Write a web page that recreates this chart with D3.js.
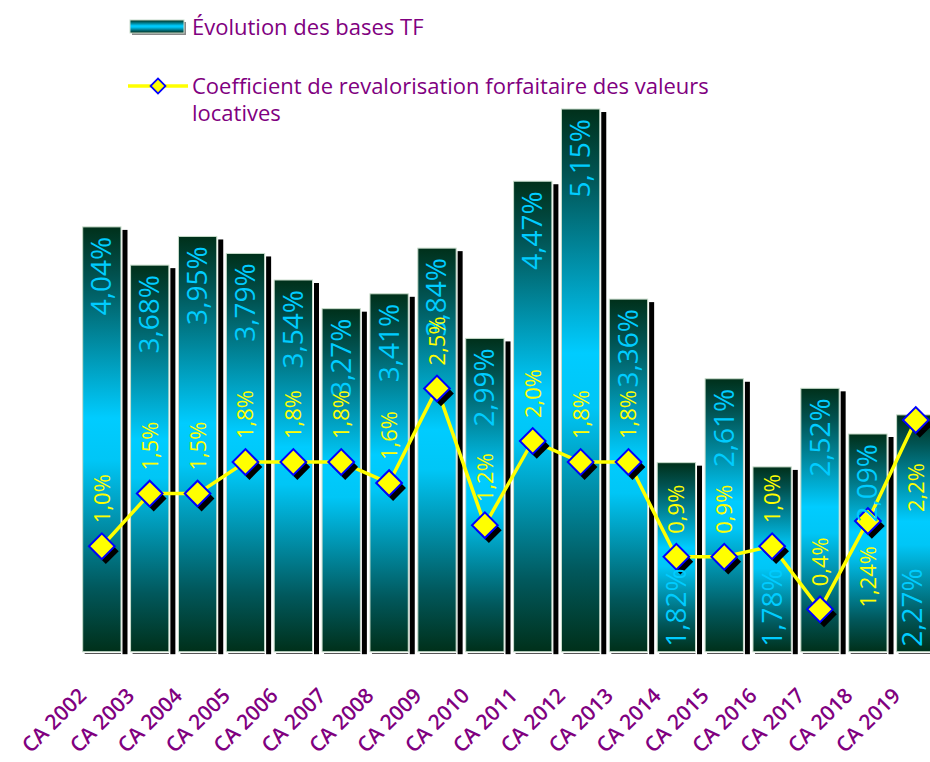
<!DOCTYPE html>
<html>
<head>
<meta charset="utf-8">
<script src="https://cdn.jsdelivr.net/npm/d3@7"></script>
<style>
  html, body { margin: 0; padding: 0; background: #fff; }
  svg { display: block; }
</style>
</head>
<body>
<script>
// ---------- DATA ----------
const categories = ["CA 2002","CA 2003","CA 2004","CA 2005","CA 2006","CA 2007","CA 2008","CA 2009","CA 2010",
  "CA 2011","CA 2012","CA 2013","CA 2014","CA 2015","CA 2016","CA 2017","CA 2018","CA 2019"];
const basesTF = [4.04,3.68,3.95,3.79,3.54,3.27,3.41,3.84,2.99,4.47,5.15,3.36,1.82,2.61,1.78,2.52,2.09,2.27];
const coefRevalo = [1.0,1.5,1.5,1.8,1.8,1.8,1.6,2.5,1.2,2.0,1.8,1.8,0.9,0.9,1.0,0.4,1.24,2.2];
const barLabelAtBase = ["CA 2014","CA 2016","CA 2019"];
const lineLabelBelow = ["CA 2018","CA 2019"];
const seriesNames = ["Évolution des bases TF", "Coefficient de revalorisation forfaitaire des valeurs", "locatives"];

// ---------- SETUP ----------
const W = 930, H = 762;
const FONT = "'Open Sans', 'DejaVu Sans', sans-serif";
const PURPLE = "#800080", CYAN = "#00ccff", YELLOW = "#ffff00";
const BAR_FS = 28;

const svg = d3.select("body").append("svg").attr("width", W).attr("height", H)
  .style("background", "#fff");

const defs = svg.append("defs");
const grad = defs.append("linearGradient").attr("id", "barGrad")
  .attr("x1", 0).attr("y1", 0).attr("x2", 0).attr("y2", 1);
[[0, "#00301a"], [0.12, "#015352"], [0.45, "#00ccff"], [0.55, "#00c6f6"], [0.85, "#01585c"], [1, "#00301a"]]
  .forEach(([o, c]) => grad.append("stop").attr("offset", o).attr("stop-color", c));

const x = d3.scaleBand().domain(categories).range([77.9, 939.7]).paddingInner(0.2).paddingOuter(0.1);
const yMin = 0.04;
const yBar = d3.scaleLinear().domain([yMin, 6]).range([651.7, 651.7 - (6 - yMin) * 106.2]);
const yLine = d3.scaleLinear().domain([0, 6]).range([651.4, 651.4 - 6 * 105.2]);
const base = yBar(yMin);
const bw = x.bandwidth();
const cx = c => x(c) + bw / 2;

const fmtBar = v => d3.format(".2f")(v).replace(".", ",") + "%";
const fmtLine = v => (Math.abs(v * 10 - Math.round(v * 10)) < 1e-9 ? d3.format(".1f")(v) : d3.format(".2f")(v)).replace(".", ",") + "%";

const data = categories.map((c, i) => ({ c, b: basesTF[i], l: coefRevalo[i] }));

// ---------- BARS ----------
const gBars = svg.append("g");
gBars.selectAll("rect.shadow").data(data).enter().append("rect")
  .attr("x", d => x(d.c) + bw + 1.5)
  .attr("y", d => yBar(d.b) + 3)
  .attr("width", 5)
  .attr("height", d => base - yBar(d.b) - 0.5)
  .attr("fill", "#000");
gBars.selectAll("line.edge").data(data).enter().append("line")
  .attr("x1", d => x(d.c) + 2).attr("x2", d => x(d.c) + bw)
  .attr("y1", base + 1.8).attr("y2", base + 1.8)
  .attr("stroke", "#555").attr("stroke-width", 1);
gBars.selectAll("rect.bar").data(data).enter().append("rect")
  .attr("x", d => x(d.c))
  .attr("y", d => yBar(d.b))
  .attr("width", bw)
  .attr("height", d => base - yBar(d.b))
  .attr("fill", "url(#barGrad)")
  .attr("stroke", "#c8dccb").attr("stroke-width", 1);

// ---------- LINE ----------
const lineGen = d3.line().x(d => cx(d.c)).y(d => yLine(d.l));
svg.append("path").datum(data).attr("d", lineGen)
  .attr("fill", "none").attr("stroke", YELLOW).attr("stroke-width", 3.5).attr("stroke-linejoin", "round");

const diamond = d3.symbol(d3.symbolSquare, 330)();
svg.selectAll("path.mshadow").data(data).enter().append("path")
  .attr("d", diamond)
  .attr("transform", d => `translate(${cx(d.c) + 4},${yLine(d.l) + 5}) rotate(45)`)
  .attr("fill", "#000");
svg.selectAll("path.marker").data(data).enter().append("path")
  .attr("d", diamond)
  .attr("transform", d => `translate(${cx(d.c)},${yLine(d.l)}) rotate(45)`)
  .attr("fill", YELLOW).attr("stroke", "#0000ff").attr("stroke-width", 2);

// ---------- BAR LABELS ----------
svg.selectAll("text.blab").data(data).enter().append("text")
  .attr("transform", d => {
    const atBase = barLabelAtBase.includes(d.c);
    const yy = atBase ? base - 5 : yBar(d.b) + 10;
    const xx = Math.min(cx(d.c) + 9.5, W - BAR_FS * 0.28);
    return `translate(${xx},${yy}) rotate(-90)`;
  })
  .attr("text-anchor", d => barLabelAtBase.includes(d.c) ? "start" : "end")
  .attr("font-family", FONT).attr("font-size", BAR_FS).attr("fill", CYAN)
  .text(d => fmtBar(d.b));

// ---------- LINE LABELS ----------
svg.selectAll("text.llab").data(data).enter().append("text")
  .attr("transform", d => {
    const below = lineLabelBelow.includes(d.c);
    const yy = below ? yLine(d.l) + (d.c === "CA 2019" ? 43 : 25) : yLine(d.l) - 23;
    return `translate(${cx(d.c) + 8},${yy}) rotate(-90)`;
  })
  .attr("text-anchor", d => lineLabelBelow.includes(d.c) ? "end" : "start")
  .attr("font-family", FONT).attr("font-size", 22).attr("fill", YELLOW)
  .text(d => fmtLine(d.l));

// ---------- X AXIS LABELS ----------
svg.selectAll("text.xlab").data(categories).enter().append("text")
  .attr("transform", c => `translate(${cx(c) - 14},${697}) rotate(-45)`)
  .attr("text-anchor", "end")
  .attr("font-family", FONT).attr("font-weight", 600).attr("font-size", 21).attr("fill", PURPLE)
  .text(c => c);

// ---------- LEGEND ----------
const lg = svg.append("g");
lg.append("rect").attr("x", 132).attr("y", 22).attr("width", 54).attr("height", 13).attr("fill", "#888");
lg.append("rect").attr("x", 130).attr("y", 20).attr("width", 54).attr("height", 13)
  .attr("fill", "url(#barGrad)").attr("stroke", "#c8dccb").attr("stroke-width", 1);
lg.append("text").attr("x", 192).attr("y", 35)
  .attr("font-family", FONT).attr("font-weight", 500).attr("font-size", 22).attr("fill", PURPLE).text(seriesNames[0]);

lg.append("line").attr("x1", 128).attr("x2", 188).attr("y1", 86).attr("y2", 86)
  .attr("stroke", YELLOW).attr("stroke-width", 3.5);
lg.append("path").attr("d", d3.symbol(d3.symbolSquare, 110)())
  .attr("transform", "translate(158,86) rotate(45)")
  .attr("fill", YELLOW).attr("stroke", "#0000ff").attr("stroke-width", 1.8);
lg.append("text").attr("x", 192).attr("y", 94)
  .attr("font-family", FONT).attr("font-weight", 500).attr("font-size", 22).attr("fill", PURPLE).text(seriesNames[1]);
lg.append("text").attr("x", 192).attr("y", 121)
  .attr("font-family", FONT).attr("font-weight", 500).attr("font-size", 22).attr("fill", PURPLE).text(seriesNames[2]);
</script>
</body>
</html>
